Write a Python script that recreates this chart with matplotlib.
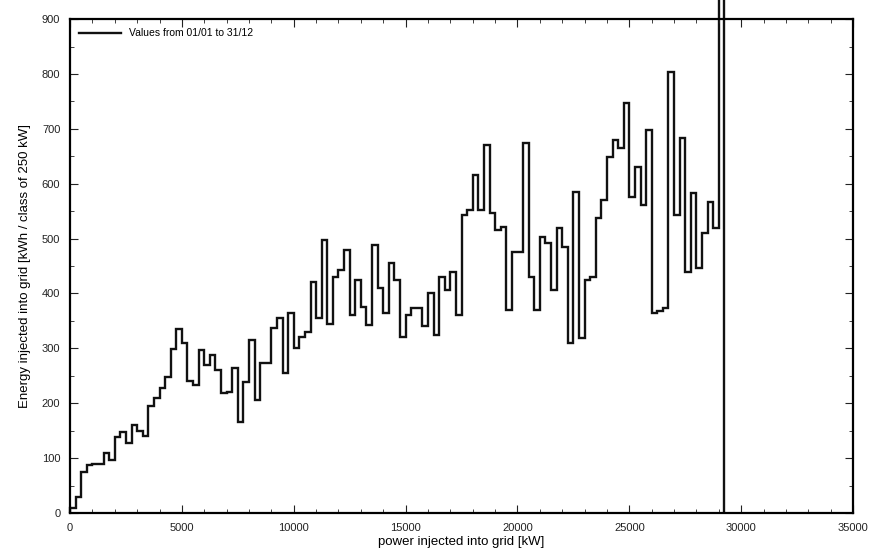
import numpy as np
import matplotlib
matplotlib.use("Agg")
import matplotlib.pyplot as plt
from matplotlib.ticker import MultipleLocator

plt.rcParams['font.family'] = ['Liberation Sans', 'DejaVu Sans']

# energy per 250 kW class
class_width = 250
energy = [
    10, 30, 75, 88, 90, 90, 110, 97, 138, 148,
    128, 160, 150, 140, 195, 210, 228, 248, 298, 335,
    310, 240, 233, 297, 270, 288, 260, 218, 220, 264,
    165, 239, 315, 206, 273, 273, 337, 355, 255, 364,
    300, 321, 330, 421, 355, 497, 345, 430, 443, 479,
    361, 424, 375, 342, 488, 410, 364, 455, 424, 321,
    361, 373, 373, 340, 400, 324, 430, 406, 439, 361,
    543, 552, 616, 552, 670, 546, 515, 521, 370, 475,
    475, 674, 430, 370, 503, 492, 406, 519, 485, 310,
    585, 319, 424, 430, 537, 570, 649, 680, 665, 747,
    576, 630, 561, 698, 364, 368, 373, 803, 543, 683,
    439, 583, 446, 510, 566, 519, 3000,
]
legend_label = "Values from 01/01 to 31/12"

edges = np.arange(len(energy) + 1) * class_width

fig = plt.figure(figsize=(8.71, 5.6), dpi=100)
ax = fig.add_axes([0.0804, 0.0839, 0.899, 0.882])

st = ax.stairs(energy, edges, baseline=0, color="#111111", lw=1.7, label=legend_label)
st.set_clip_on(False)

ax.set_xlim(0, 35000)
ax.set_ylim(0, 900)
ax.xaxis.set_major_locator(MultipleLocator(5000))
ax.xaxis.set_minor_locator(MultipleLocator(1000))
ax.yaxis.set_major_locator(MultipleLocator(100))
ax.yaxis.set_minor_locator(MultipleLocator(50))
ax.tick_params(which="both", direction="in", top=True, right=True, labelsize=8, colors="#222222")
ax.tick_params(which="major", length=6, pad=7)
ax.tick_params(which="minor", length=3)
for sp in ax.spines.values():
    sp.set_linewidth(1.6)

ax.set_xlabel("power injected into grid [kW]", fontsize=9.5, labelpad=2)
ax.set_ylabel("Energy injected into grid [kWh / class of 250 kW]", fontsize=9.5, labelpad=8)
ax.legend(loc="upper left", frameon=False, fontsize=7.5, handlelength=4)

fig.savefig("out.png", dpi=100)
